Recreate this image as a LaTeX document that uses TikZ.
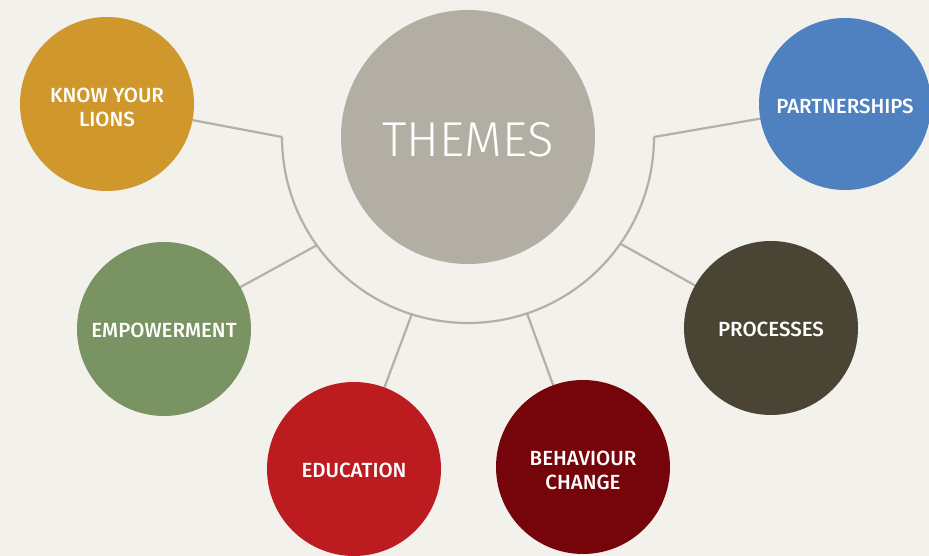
\documentclass[tikz,border=0pt]{standalone}
\usepackage{fontspec}
\setmainfont{Fira Sans Medium}
\newfontfamily\thinfont{Fira Sans Light}
\usetikzlibrary{calc}
\definecolor{bg}{HTML}{F2F1EC}
\definecolor{cgold}{HTML}{D0972C}
\definecolor{cblue}{HTML}{4F80BF}
\definecolor{cgreen}{HTML}{7A9362}
\definecolor{colive}{HTML}{4A4434}
\definecolor{cred}{HTML}{BC1B20}
\definecolor{cdred}{HTML}{75050A}
\definecolor{cgrey}{HTML}{B2AEA3}
\definecolor{cline}{HTML}{B4B0A6}
\begin{document}
\begin{tikzpicture}[x=1pt,y=1pt,
  theme/.style={circle,inner sep=0pt,minimum size=174pt},
  txt/.style={text=white,align=center,inner sep=0pt,
    font=\fontsize{20.5}{24}\selectfont},
  link/.style={draw=cline,line width=2.2pt}]
\fill[bg] (0,0) rectangle (929,556);
\useasboundingbox (0,0) rectangle (929,556);
\coordinate (c) at (468,419);
\coordinate (aL) at ([shift={(180:186)}]c);
\coordinate (aR) at ([shift={(0:186)}]c);
\coordinate (aEm) at ([shift={(215.6:186)}]c);
\coordinate (aEd) at ([shift={(252.4:186)}]c);
\coordinate (aBe) at ([shift={(288.5:186)}]c);
\coordinate (aPr) at ([shift={(325:186)}]c);
\coordinate (pLi) at (107,452);
\coordinate (pPa) at (845,452);
\coordinate (pEm) at (164,227);
\coordinate (pPr) at (771,228);
\coordinate (pEd) at (354,87);
\coordinate (pBe) at (583,89);
% connectors (behind the circles)
\draw[link] (aL) arc[start angle=180,end angle=360,radius=186];
\draw[link] (aL) -- (pLi);
\draw[link] (aR) -- (pPa);
\draw[link] (aEm) -- (pEm);
\draw[link] (aEd) -- (pEd);
\draw[link] (aBe) -- (pBe);
\draw[link] (aPr) -- (pPr);
% circles
\node[circle,fill=cgrey,inner sep=0pt,minimum size=254pt] (themes) at (c) {};
\node[text=white,inner sep=0pt,font=\thinfont\fontsize{49}{52}\selectfont]
  (themesT) at ([yshift=-3]themes.center) {THEMES};
\node[theme,fill=cgold] (lions) at (pLi) {};
\node[txt] (lionsT) at ([yshift=-3]lions.center) {KNOW YOUR\\LIONS};
\node[theme,fill=cblue,minimum size=172pt] (partners) at (pPa) {};
\node[txt] (partnersT) at ([yshift=-2]partners.center) {PARTNERSHIPS};
\node[theme,fill=cgreen] (empower) at (pEm) {};
\node[txt] (empowerT) at ([yshift=-1]empower.center) {EMPOWERMENT};
\node[theme,fill=colive] (process) at (pPr) {};
\node[txt] (processT) at ([yshift=-1]process.center) {PROCESSES};
\node[theme,fill=cred] (educ) at (pEd) {};
\node[txt] (educT) at ([yshift=-1]educ.center) {EDUCATION};
\node[theme,fill=cdred] (behav) at (pBe) {};
\node[txt] (behavT) at ([yshift=-3]behav.center) {BEHAVIOUR\\CHANGE};
\end{tikzpicture}
\end{document}
